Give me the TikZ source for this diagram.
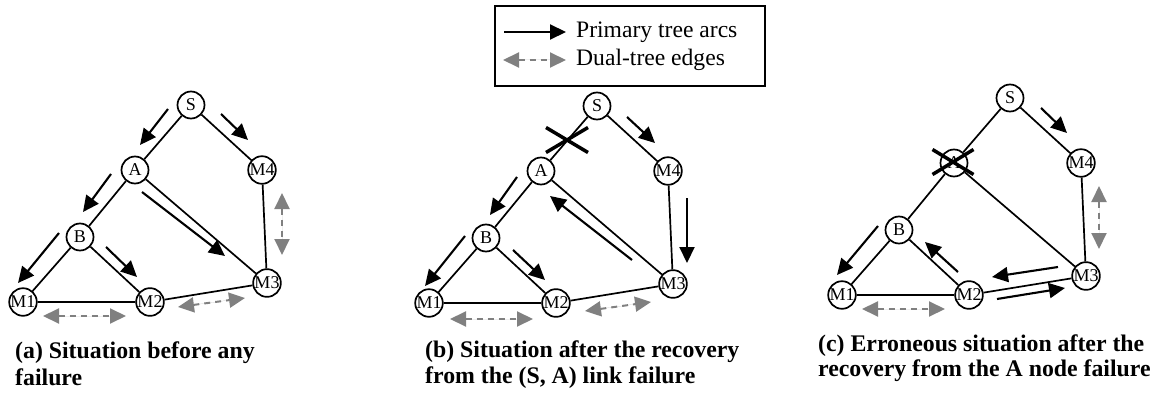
\documentclass[tikz,border=0pt]{standalone}
\usepackage{fontspec}
\setmainfont{Liberation Serif}
\usetikzlibrary{arrows.meta}
\definecolor{dualgray}{RGB}{128,128,128}
\tikzset{
  nd/.style={circle, draw, line width=1.7pt, minimum size=27pt, inner sep=0pt,
             fill=white, font=\fontsize{18}{18}\selectfont},
  edgeline/.style={line width=1.7pt},
  parr/.style={line width=2.1pt, -{Triangle[length=16pt,width=15pt]}},
  darr/.style={line width=2pt, draw=dualgray, fill=dualgray, dash pattern=on 6pt off 5pt,
               {Triangle[length=16pt,width=15pt]}-{Triangle[length=16pt,width=15pt]}},
  xmark/.style={line width=3.5pt},
  captxt/.style={anchor=base west, inner sep=0pt, font=\fontsize{23.8}{27}\selectfont\bfseries},
  legtxt/.style={anchor=base west, inner sep=0pt, font=\fontsize{23.6}{27}\selectfont},
}
\newcommand{\mygraph}{%
  \node[nd] (S) at (191,105) {S};
  \node[nd] (A) at (135,170) {A};
  \node[nd] (M4) at (262,170) {M4};
  \node[nd] (B) at (80,237) {B};
  \node[nd] (M1) at (23,302) {M1};
  \node[nd] (M2) at (150,302) {M2};
  \node[nd] (M3) at (267,283) {M3};
  \draw[edgeline] (S) -- (A) (S) -- (M4) (A) -- (B) (A) -- (M3) (B) -- (M1)
     (B) -- (M2) (M1) -- (M2) (M2) -- (M3) (M3) -- (M4);
}
\begin{document}
\begin{tikzpicture}[x=1pt,y=-1pt]
\useasboundingbox (0,0) rectangle (1163,396);

% ---------- legend ----------
\node[draw, line width=1.7pt, minimum width=270pt, minimum height=80pt, inner sep=0pt,
      anchor=north west] (legend) at (494,5) {};
\coordinate (lp1) at (504,32);
\coordinate (lp2) at (566,32);
\coordinate (ld1) at (503,60);
\coordinate (ld2) at (566,60);
\draw[parr] (lp1) -- (lp2);
\draw[darr] (ld1) -- (ld2);
\node[legtxt] (lt1) at (576,37.5) {Primary tree arcs};
\node[legtxt] (lt2) at (576,65.5) {Dual-tree edges};

% ---------- panel (a) ----------
\begin{scope}[name prefix=a-]
  \mygraph
\end{scope}
\draw[parr] (168,109) -- (140,145);
\draw[parr] (221,114) -- (248,140);
\draw[parr] (111,174) -- (83,212);
\draw[parr] (142,192) -- (225,256);
\draw[parr] (59,233) -- (18,283);
\draw[parr] (106,247) -- (137,277);
\draw[darr] (43,316) -- (126,316);
\draw[darr] (178,307) -- (245,298);
\draw[darr] (282,193) -- (282,255);
\node[captxt] (capa1) at (15,358) {(a) Situation before any};
\node[captxt] (capa2) at (15,385) {failure};

% ---------- panel (b) ----------
\begin{scope}[shift={(406,1)}, name prefix=b-]
  \mygraph
\end{scope}
\draw[xmark] (546,127.5) -- (588,152.5) (546,152.5) -- (588,127.5);
\draw[parr] (627,117) -- (655,143);
\draw[parr] (517,177) -- (490,215);
\draw[parr] (632,260) -- (550,196);
\draw[parr] (687,198) -- (687,263);
\draw[parr] (465,236) -- (425,286);
\draw[parr] (513,250) -- (545,280);
\draw[darr] (450,319) -- (533,319);
\draw[darr] (585,311) -- (651,302);
\node[captxt] (capb1) at (425,357) {(b) Situation after the recovery};
\node[captxt] (capb2) at (425,383) {from the (S, A) link failure};

% ---------- panel (c) ----------
\begin{scope}[shift={(819,-7)}, name prefix=c-]
  \mygraph
\end{scope}
\draw[xmark] (932.5,149.5) -- (973.5,174.5) (932.5,174.5) -- (973.5,149.5);
\draw[parr] (1041,108) -- (1067,133);
\draw[parr] (878,226) -- (837,275);
\draw[parr] (958,272) -- (925,242);
\draw[parr] (1058,267) -- (992,277);
\draw[parr] (997,299) -- (1065,288);
\draw[darr] (1099,186) -- (1099,249);
\draw[darr] (862,309) -- (945,309);
\node[captxt] (capc1) at (818,351.5) {(c) Erroneous situation after the};
\node[captxt] (capc2) at (818,376.5) {recovery from the A node failure};
\end{tikzpicture}
\end{document}
